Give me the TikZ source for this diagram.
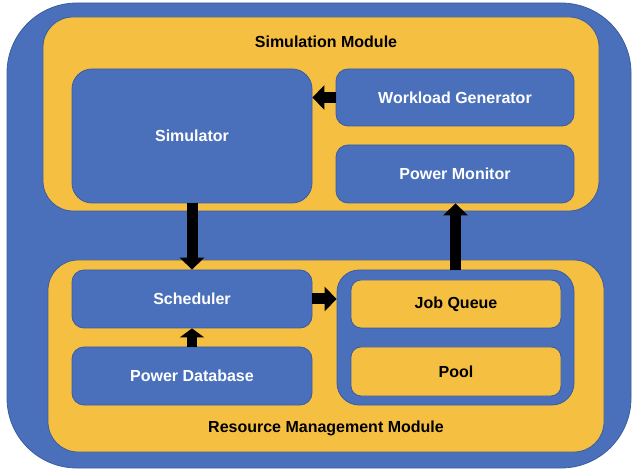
\documentclass[tikz,border=0pt]{standalone}
\usepackage{fontspec}
\setmainfont{Liberation Sans}
\usetikzlibrary{arrows.meta}
\definecolor{boxblue}{HTML}{4A70BC}
\definecolor{edgeblue}{HTML}{3A5C9E}
\definecolor{boxyellow}{HTML}{F5BF42}
\begin{document}
\begin{tikzpicture}[x=1pt,y=-1pt,
  font=\fontsize{16}{19}\selectfont\bfseries,
  bluebox/.style={draw=edgeblue,line width=0.8pt,fill=boxblue,text=white,rounded corners=#1,inner sep=0pt},
  bluebox/.default=12pt,
  yellowbox/.style={draw=edgeblue,line width=0.8pt,fill=boxyellow,text=black,rounded corners=#1,inner sep=0pt},
  yellowbox/.default=10pt,
  label text/.style={text=black,inner sep=0pt},
  bigarrow/.style={line width=11pt,draw=black,-{Triangle[width=24pt,length=12pt]}},
  smallarrow/.style={line width=10pt,draw=black,-{Triangle[width=24pt,length=9pt]}}
]
\useasboundingbox (0,0) rectangle (632,470);
% outer container
\node[bluebox=70pt,minimum width=624pt,minimum height=465pt] (outer) at (319,235.5) {};
% simulation module
\node[yellowbox=30pt,minimum width=556pt,minimum height=194pt] (simmod) at (321,114) {};
\node[label text] (simtitle) at (326,42) {Simulation Module};
\node[bluebox=20pt,minimum width=240pt,minimum height=134pt] (sim) at (192,136) {Simulator};
\node[bluebox,minimum width=238pt,minimum height=57pt] (wg) at (455,97.5) {Workload Generator};
\node[bluebox,minimum width=238pt,minimum height=58pt] (pm) at (455,174) {Power Monitor};
% resource management module
\node[yellowbox=30pt,minimum width=556pt,minimum height=192pt] (resmod) at (326,356) {};
\node[label text] (restitle) at (326,428) {Resource Management Module};
\node[bluebox,minimum width=240pt,minimum height=58pt] (sched) at (192,299) {Scheduler};
\node[bluebox,minimum width=240pt,minimum height=58pt] (pd) at (192,376) {Power Database};
\node[bluebox=22pt,minimum width=237pt,minimum height=135pt] (cont) at (455.5,337.5) {};
\node[yellowbox,minimum width=210pt,minimum height=48pt] (jq) at (456,304) {Job Queue};
\node[yellowbox,minimum width=210pt,minimum height=49pt] (pool) at (456,371.5) {Pool};
% connectors
\draw[bigarrow] (wg.west) -- (wg.west -| sim.east);
\draw[bigarrow] (sim.south) -- (sched.north);
\draw[smallarrow] (pd.north) -- (sched.south);
\draw[bigarrow] (sched.east) -- (sched.east -| cont.west);
\draw[bigarrow] (cont.north) -- (cont.north |- pm.south);
\end{tikzpicture}
\end{document}
